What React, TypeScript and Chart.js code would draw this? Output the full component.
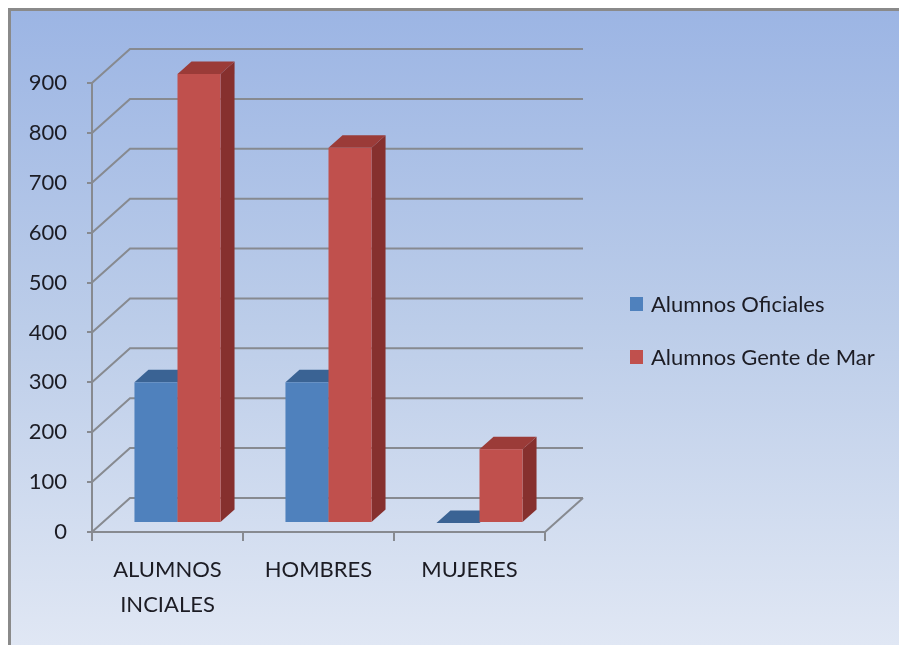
import React, { useEffect, useRef } from 'react';
import { Chart, registerables } from 'chart.js';

Chart.register(...registerables);

// ---- data ----
const categories: (string | string[])[] = [['ALUMNOS', 'INCIALES'], 'HOMBRES', 'MUJERES'];
const seriesNames = ['Alumnos Oficiales', 'Alumnos Gente de Mar'];
const alumnosOficiales = [282, 282, 0];
const alumnosGenteDeMar = [900, 752, 148];
const yMin = 0;
const yMax = 900;
const yStep = 100;

// ---- styles ----
const FONT = 'Lato';
const TEXT = '#1c1c24';
const AXIS = '#878a90';
const FACES = [
  { front: '#4f81bd', top: '#3a6394', side: '#335887' },
  { front: '#c0504d', top: '#9b3b38', side: '#86302e' },
];
const DEPTH = { x: 38, y: -34 };
const BAR_OFF = { x: 10, y: -9 };
const BAR_DEPTH = { x: 14, y: -12.5 };

const excel3d = {
  id: 'excel3d',
  beforeDraw(chart: any) {
    const { ctx, width, height } = chart;
    ctx.save();
    ctx.fillStyle = '#ffffff';
    ctx.fillRect(0, 0, width, height);
    const g = ctx.createLinearGradient(0, 10, 0, height);
    g.addColorStop(0, '#9cb5e4');
    g.addColorStop(0.5, '#bccde9');
    g.addColorStop(1, '#e0e7f4');
    ctx.fillStyle = g;
    ctx.fillRect(8, 8, width - 8, height - 8);
    ctx.strokeStyle = '#8a8a8a';
    ctx.lineWidth = 3;
    ctx.beginPath();
    ctx.moveTo(9.5, height);
    ctx.lineTo(9.5, 9.5);
    ctx.lineTo(width, 9.5);
    ctx.stroke();
    ctx.restore();
  },
  beforeDatasetsDraw(chart: any) {
    const { ctx, chartArea: a } = chart;
    const ys = chart.scales.y;
    ctx.save();
    ctx.strokeStyle = AXIS;
    ctx.lineWidth = 2;
    ys.ticks.forEach((t: any) => {
      const p = ys.getPixelForValue(t.value);
      ctx.beginPath();
      ctx.moveTo(a.left, p);
      ctx.lineTo(a.left + DEPTH.x, p + DEPTH.y);
      ctx.lineTo(a.right + DEPTH.x, p + DEPTH.y);
      ctx.stroke();
    });
    const p0 = ys.getPixelForValue(yMin);
    ctx.beginPath();
    ctx.moveTo(a.right, p0);
    ctx.lineTo(a.right + DEPTH.x, p0 + DEPTH.y);
    ctx.stroke();

    const n = chart.data.labels.length;
    for (let i = 0; i < n; i++) {
      chart.data.datasets.forEach((_ds: any, d: number) => {
        const meta = chart.getDatasetMeta(d);
        const el = meta.data[i];
        if (!el) return;
        const { x, y, base, width } = el.getProps(['x', 'y', 'base', 'width'], true);
        const f = FACES[d % FACES.length];
        const L = x - width / 2 + BAR_OFF.x;
        const R = x + width / 2 + BAR_OFF.x;
        const T = Math.min(y, base) + BAR_OFF.y;
        const B = Math.max(y, base) + BAR_OFF.y;
        // side
        ctx.fillStyle = f.side;
        ctx.beginPath();
        ctx.moveTo(R, T);
        ctx.lineTo(R + BAR_DEPTH.x, T + BAR_DEPTH.y);
        ctx.lineTo(R + BAR_DEPTH.x, B + BAR_DEPTH.y);
        ctx.lineTo(R, B);
        ctx.closePath();
        ctx.fill();
        // top
        ctx.fillStyle = f.top;
        ctx.beginPath();
        ctx.moveTo(L, T);
        ctx.lineTo(R, T);
        ctx.lineTo(R + BAR_DEPTH.x, T + BAR_DEPTH.y);
        ctx.lineTo(L + BAR_DEPTH.x, T + BAR_DEPTH.y);
        ctx.closePath();
        ctx.fill();
        // front
        ctx.fillStyle = f.front;
        ctx.fillRect(L, T, R - L, B - T);
      });
    }
    ctx.restore();
    return false;
  },
  afterDraw(chart: any) {
    const { ctx } = chart;
    ctx.save();
    ctx.font = `22px ${FONT}`;
    ctx.textBaseline = 'middle';
    ctx.textAlign = 'left';
    chart.data.datasets.forEach((ds: any, d: number) => {
      const cy = 304 + d * 53;
      ctx.fillStyle = FACES[d].front;
      ctx.fillRect(630, cy - 7, 13, 14);
      ctx.fillStyle = TEXT;
      ctx.fillText(ds.label, 651, cy + 1);
    });
    ctx.restore();
  },
};

function ChartView() {
  const ref = useRef<HTMLCanvasElement | null>(null);
  useEffect(() => {
    let chart: any = null;
    let cancelled = false;
    const make = () => {
      if (cancelled || !ref.current) return;
      chart = new Chart(ref.current, {
        type: 'bar',
        data: {
          labels: categories as any,
          datasets: [
            { label: seriesNames[0], data: alumnosOficiales, backgroundColor: FACES[0].front },
            { label: seriesNames[1], data: alumnosGenteDeMar, backgroundColor: FACES[1].front },
          ],
        },
        options: {
          responsive: false,
          animation: false,
          devicePixelRatio: 1,
          layout: { padding: { left: 0, right: 354, top: 83, bottom: 0 } },
          datasets: { bar: { categoryPercentage: 0.57, barPercentage: 1 } } as any,
          plugins: { legend: { display: false }, tooltip: { enabled: false } },
          scales: {
            x: {
              offset: true,
              grid: { offset: true, drawOnChartArea: false, drawTicks: true, tickLength: 9, color: AXIS, lineWidth: 2 },
              border: { display: true, color: AXIS, width: 2 },
              ticks: { font: { family: FONT, size: 22, lineHeight: 1.6 }, color: TEXT, padding: 11, maxRotation: 0, autoSkip: false },
              afterFit: (s: any) => { s.height = 113; },
            },
            y: {
              min: yMin,
              max: yMax,
              grid: { drawOnChartArea: false, drawTicks: true, tickLength: 5, color: AXIS, lineWidth: 2 },
              border: { display: true, color: AXIS, width: 2 },
              ticks: { stepSize: yStep, font: { family: FONT, size: 22 }, color: TEXT, padding: 20 },
              afterFit: (s: any) => { s.width = 92; },
            },
          },
        },
        plugins: [excel3d],
      });
    };
    const fonts: any = (document as any).fonts;
    if (fonts && fonts.load) {
      fonts.load(`22px ${FONT}`).then(make, make);
    } else {
      make();
    }
    return () => {
      cancelled = true;
      if (chart) chart.destroy();
    };
  }, []);
  return <canvas ref={ref} width={899} height={645} style={{ display: 'block', width: 899, height: 645 }} />;
}

export default function App() {
  return (
    <div style={{ position: 'absolute', left: 0, top: 0, width: 899, height: 645, overflow: 'hidden' }}>
      <ChartView />
    </div>
  );
}
